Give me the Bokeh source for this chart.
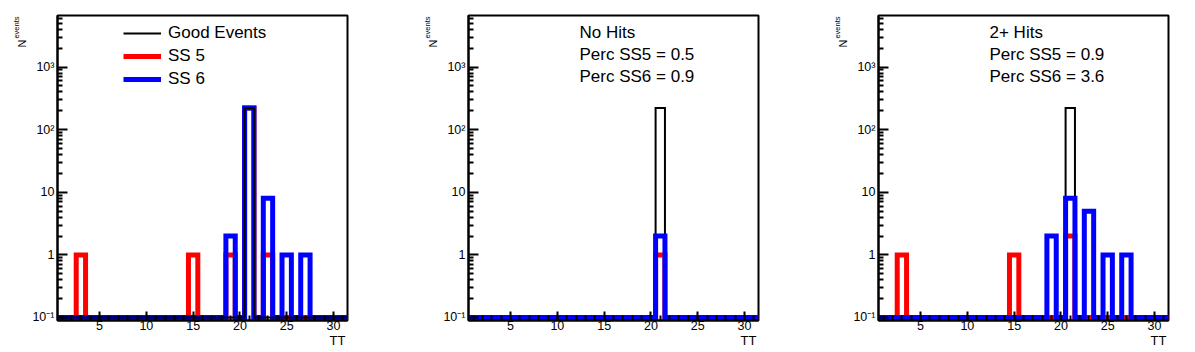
import math
from bokeh.plotting import figure
from bokeh.models import (Range1d, FixedTicker, CustomJSTickFormatter, Label,
                          Legend, LegendItem, Title)
from bokeh.layouts import row
from bokeh.embed import file_html
from bokeh.resources import INLINE

# ---------------- data (TT bins 1..31) ----------------
tt_bins = [1, 2, 3, 4, 5, 6, 7, 8, 9, 10, 11, 12, 13, 14, 15, 16,
           17, 18, 19, 20, 21, 22, 23, 24, 25, 26, 27, 28, 29, 30, 31]

# panel 1: all events
all_good = [0, 0, 0, 0, 0, 0, 0, 0, 0, 0, 0, 0, 0, 0, 0, 0,
            0, 0, 0, 0, 222, 0, 0, 0, 0, 0, 0, 0, 0, 0, 0]
all_ss5 = [0, 0, 1, 0, 0, 0, 0, 0, 0, 0, 0, 0, 0, 0, 1, 0,
           0, 0, 1, 0, 222, 0, 1, 0, 0, 0, 0, 0, 0, 0, 0]
all_ss6 = [0, 0, 0, 0, 0, 0, 0, 0, 0, 0, 0, 0, 0, 0, 0, 0,
           0, 0, 2, 0, 222, 0, 8, 0, 1, 0, 1, 0, 0, 0, 0]

# panel 2: no hits
nohit_good = [0, 0, 0, 0, 0, 0, 0, 0, 0, 0, 0, 0, 0, 0, 0, 0,
              0, 0, 0, 0, 222, 0, 0, 0, 0, 0, 0, 0, 0, 0, 0]
nohit_ss5 = [0, 0, 0, 0, 0, 0, 0, 0, 0, 0, 0, 0, 0, 0, 0, 0,
             0, 0, 0, 0, 1, 0, 0, 0, 0, 0, 0, 0, 0, 0, 0]
nohit_ss6 = [0, 0, 0, 0, 0, 0, 0, 0, 0, 0, 0, 0, 0, 0, 0, 0,
             0, 0, 0, 0, 2, 0, 0, 0, 0, 0, 0, 0, 0, 0, 0]

# panel 3: 2+ hits
multi_good = [0, 0, 0, 0, 0, 0, 0, 0, 0, 0, 0, 0, 0, 0, 0, 0,
              0, 0, 0, 0, 222, 0, 0, 0, 0, 0, 0, 0, 0, 0, 0]
multi_ss5 = [0, 0, 1, 0, 0, 0, 0, 0, 0, 0, 0, 0, 0, 0, 1, 0,
             0, 0, 0, 0, 2, 0, 0, 0, 0, 0, 0, 0, 0, 0, 0]
multi_ss6 = [0, 0, 0, 0, 0, 0, 0, 0, 0, 0, 0, 0, 0, 0, 0, 0,
             0, 0, 2, 0, 8, 0, 5, 0, 1, 0, 1, 0, 0, 0, 0]

legend_labels = ["Good Events", "SS 5", "SS 6"]
nohit_texts = ["No Hits", "Perc SS5 = 0.5", "Perc SS6 = 0.9"]
multi_texts = ["2+ Hits", "Perc SS5 = 0.9", "Perc SS6 = 3.6"]

x_major = [5, 10, 15, 20, 25, 30]
y_major = [0.1, 1, 10, 100, 1000]

# ---------------- styling ----------------
FONT = "Liberation Sans"
FRAME_H = 305
FRAME_W = 290
Y_FLOOR = 0.1
YMIN = 10 ** (-1 - 3 / 62.6)
YMAX = 10 ** 3.824
y_minor = [k * 10 ** e for e in range(-1, 4) for k in range(2, 10) if k * 10 ** e < YMAX]
x_minor = list(tt_bins)

COLORS = {"good": "black", "ss5": "#ff0000", "ss6": "#0000ff"}
WIDTHS = {"good": 2, "ss5": 5, "ss6": 5}


def outline(centers, counts):
    xs, ys = [], []
    for c, n in zip(centers, counts):
        y = max(n, Y_FLOOR)
        xs += [c - 0.5, c + 0.5]
        ys += [y, y]
    return xs, ys


ytick_fmt = CustomJSTickFormatter(code="""
const e = Math.round(Math.log10(tick));
if (e == 0) return "1";
if (e == 1) return "10";
const sup = {"-1": "10\\u207b\\u00b9", "2": "10\\u00b2", "3": "10\\u00b3"};
return sup[String(e)];
""")


def make_panel(width, left, right, order, series, legend=False, texts=None):
    p = figure(width=width, height=352, x_range=Range1d(0.5, 31.5),
               y_range=Range1d(YMIN, YMAX), y_axis_type="log",
               output_backend="svg", toolbar_location=None,
               min_border_left=left, min_border_right=right,
               min_border_top=15, min_border_bottom=352 - 15 - FRAME_H)
    p.xgrid.visible = False
    p.ygrid.visible = False
    p.outline_line_color = "black"
    p.outline_line_width = 2
    p.background_fill_color = "white"
    p.border_fill_color = "white"

    for ax in (p.xaxis[0], p.yaxis[0]):
        ax.axis_line_width = 2
        ax.axis_line_color = "black"
        ax.major_tick_out = 0
        ax.minor_tick_out = 0
        ax.major_tick_line_width = 2
        ax.minor_tick_line_width = 2
        ax.major_tick_line_color = "black"
        ax.minor_tick_line_color = "black"
        ax.major_label_text_font = FONT
        ax.major_label_text_font_size = "12.5px"
        ax.major_label_text_color = "black"
    p.xaxis.ticker = FixedTicker(ticks=x_major, minor_ticks=x_minor)
    p.xaxis.major_tick_in = 9
    p.xaxis.minor_tick_in = 5
    p.xaxis.major_label_standoff = 0
    p.yaxis.ticker = FixedTicker(ticks=y_major, minor_ticks=y_minor)
    p.yaxis.formatter = ytick_fmt
    p.yaxis.major_tick_in = 10
    p.yaxis.minor_tick_in = 5
    p.yaxis.major_label_standoff = 3

    rends = {}
    for key in order:
        xs, ys = outline(tt_bins, series[key])
        rends[key] = p.line(xs, ys, line_color=COLORS[key], line_width=WIDTHS[key],
                            line_join="miter", line_cap="butt")

    # y-axis title N_events (side-panel titles, reading upward)
    p.add_layout(Title(text="events", align="right", offset=1, vertical_align="bottom",
                       standoff=17, text_font=FONT, text_font_size="7.5px",
                       text_font_style="normal", text_color="black"), "left")
    p.add_layout(Title(text="N", align="right", offset=24, vertical_align="bottom",
                       standoff=-52, text_font=FONT, text_font_size="11px",
                       text_font_style="normal", text_color="black"), "left")
    # x-axis title
    p.add_layout(Title(text="TT", align="right", offset=2, vertical_align="top",
                       standoff=0, text_font=FONT, text_font_size="13px",
                       text_font_style="normal", text_color="black"), "below")

    if legend:
        items = [LegendItem(label=lab, renderers=[rends[k]])
                 for lab, k in zip(legend_labels, ["good", "ss5", "ss6"])]
        lg = Legend(items=items, location=(66, 231))
        lg.border_line_color = None
        lg.background_fill_alpha = 0
        lg.padding = 0
        lg.margin = 0
        lg.spacing = 3
        lg.glyph_width = 38
        lg.glyph_height = 20
        lg.label_height = 20
        lg.label_standoff = 7
        lg.label_text_font = FONT
        lg.label_text_font_size = "17px"
        lg.label_text_color = "black"
        p.add_layout(lg)

    if texts:
        ys_txt = [FRAME_H + 15 - 31.7, FRAME_H + 15 - 53.8, FRAME_H + 15 - 76]
        for t, yy in zip(texts, ys_txt):
            p.add_layout(Label(x=111, y=yy, x_units="screen", y_units="screen",
                               text=t, text_align="left", text_baseline="middle",
                               text_font=FONT, text_font_size="17px",
                               text_color="black"))
    return p


p1 = make_panel(410, 57, 63, ["ss5", "ss6", "good"],
                {"good": all_good, "ss5": all_ss5, "ss6": all_ss6}, legend=True)
p2 = make_panel(400, 58, 52, ["good", "ss5", "ss6"],
                {"good": nohit_good, "ss5": nohit_ss5, "ss6": nohit_ss6}, texts=nohit_texts)
p3 = make_panel(385, 68, 27, ["good", "ss5", "ss6"],
                {"good": multi_good, "ss5": multi_ss5, "ss6": multi_ss6}, texts=multi_texts)

layout = row(p1, p2, p3, spacing=0)
with open("out.html", "w", encoding="utf-8") as f:
    f.write(file_html(layout, INLINE))
